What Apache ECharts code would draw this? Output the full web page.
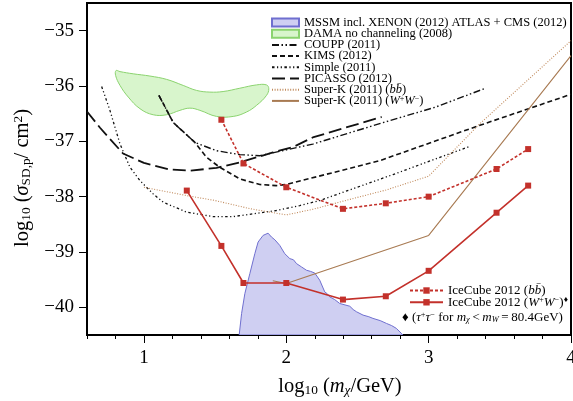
<!DOCTYPE html>
<html>
<head>
<meta charset="utf-8">
<script src="https://cdn.jsdelivr.net/npm/echarts@6/dist/echarts.min.js"></script>
<style>
  html, body { margin: 0; background: #fff; }
  #chart { width: 573px; height: 401px; }
</style>
</head>
<body>
<div id="chart"></div>
<script>
// axis ticks
const xTicks = [1, 2, 3, 4];
const yTicks = [-40, -39, -38, -37, -36, -35];

// [log10(m/GeV), log10(sigma/cm^2)]
const mssmRegion = [
  [1.669, -40.5], [1.686, -40.11], [1.709, -39.75], [1.744, -39.39], [1.779, -39.03],
  [1.802, -38.82], [1.837, -38.70], [1.872, -38.66], [1.896, -38.73], [1.92, -38.78],
  [1.954, -38.88], [1.989, -39.03], [2.025, -39.12], [2.05, -39.14], [2.072, -39.21],
  [2.107, -39.27], [2.142, -39.33], [2.17, -39.35], [2.2, -39.38], [2.235, -39.51],
  [2.27, -39.72], [2.29, -39.76], [2.305, -39.81], [2.34, -39.86], [2.375, -39.93],
  [2.446, -39.98], [2.47, -40.04], [2.493, -40.08], [2.539, -40.14], [2.58, -40.17],
  [2.609, -40.20], [2.66, -40.24], [2.703, -40.29], [2.74, -40.33], [2.773, -40.38],
  [2.808, -40.47], [2.82, -40.5]
];
const damaRegion = [
  [0.804, -35.72], [0.832, -35.74], [0.925, -35.78], [1.042, -35.82], [1.159, -35.88],
  [1.276, -35.99], [1.37, -36.08], [1.463, -36.11], [1.556, -36.10], [1.674, -36.04],
  [1.791, -35.98], [1.861, -35.98], [1.877, -36.05], [1.861, -36.17], [1.791, -36.35],
  [1.721, -36.47], [1.627, -36.55], [1.51, -36.55], [1.393, -36.44], [1.323, -36.40],
  [1.253, -36.44], [1.159, -36.52], [1.065, -36.52], [0.972, -36.41], [0.89, -36.20],
  [0.832, -35.99], [0.801, -35.81]
];
const coupp = [
  [1.105, -36.17], [1.206, -36.66], [1.358, -37.02], [1.51, -37.17], [1.674, -37.24],
  [1.814, -37.26], [1.954, -37.18], [2.186, -37.05], [2.656, -36.68], [3.05, -36.38], [3.4, -36.04]
];
const kims = [
  [1.105, -36.17], [1.206, -36.66], [1.358, -37.02], [1.44, -37.29], [1.533, -37.47],
  [1.674, -37.68], [1.814, -37.78], [1.93, -37.80], [2.0, -37.78], [2.656, -37.35],
  [3.36, -36.71], [4.0, -36.15]
];
const simple = [
  [0.703, -36.01], [0.761, -36.44], [0.832, -37.05], [0.902, -37.47], [0.972, -37.71],
  [1.065, -37.95], [1.135, -38.10], [1.30, -38.28], [1.486, -38.36], [1.627, -38.36],
  [1.767, -38.31], [1.93, -38.25], [2.095, -38.16], [2.235, -38.07], [2.75, -37.60], [3.29, -37.09]
];
const picasso = [
  [0.6, -36.46], [0.69, -36.75], [0.853, -37.22], [1.0, -37.39], [1.182, -37.51],
  [1.323, -37.53], [1.51, -37.48], [1.674, -37.38], [1.907, -37.20], [2.05, -37.10],
  [2.186, -36.93], [2.42, -36.75], [2.67, -36.56]
];
const superKbb = [
  [1.0, -37.83], [1.3, -37.98], [1.5, -38.07], [1.75, -38.22], [2.0, -38.33],
  [2.2, -38.22], [2.4, -38.08], [2.7, -37.88], [3.0, -37.63], [3.36, -36.68], [4.0, -35.18]
];
const superKww = [[1.905, -39.52], [2.0, -39.57], [3.0, -38.70], [4.0, -35.45]];
const icecubeBB = [
  [1.544, -36.61], [1.699, -37.40], [2.0, -37.83], [2.398, -38.22], [2.699, -38.12],
  [3.0, -38.0], [3.477, -37.50], [3.699, -37.14]
];
const icecubeWW = [
  [1.301, -37.89], [1.544, -38.89], [1.699, -39.56], [2.0, -39.56], [2.398, -39.86],
  [2.699, -39.80], [3.0, -39.34], [3.477, -38.29], [3.699, -37.80]
];

const FONT = 'Liberation Serif';
const RED = '#c3312b';
const BROWN = '#a87a52';

const richSet = (size) => ({
  i: { fontFamily: FONT, fontSize: size, fontStyle: 'italic', color: '#000' },
  sub: { fontFamily: FONT, fontSize: size * 0.65, lineHeight: size * 0.65, color: '#000', padding: [size * 0.4, 0, 0, 0] },
  isub: { fontFamily: FONT, fontSize: size * 0.65, lineHeight: size * 0.65, fontStyle: 'italic', color: '#000', padding: [size * 0.4, 0, 0, 0] },
  sup: { fontFamily: FONT, fontSize: size * 0.65, lineHeight: size * 0.65, color: '#000', padding: [0, 0, size * 0.4, 0] }
});

const legendText = {
  'Super-K (2011) (bb)': 'Super-K (2011) ({i|bb\u0304})',
  'Super-K (2011) (WW)': 'Super-K (2011) ({i|W}{sup|+}{i|W}{sup|\u2212})',
  'IceCube 2012 (bb)': 'IceCube 2012 ({i|bb\u0304})',
  'IceCube 2012 (WW)': 'IceCube 2012 ({i|W}{sup|+}{i|W}{sup|\u2212}){sup|\u2666}'
};

function line(name, data, color, width, type, withSymbol) {
  return {
    name, type: 'line', data,
    symbol: withSymbol ? 'rect' : 'none',
    symbolSize: 6,
    showSymbol: !!withSymbol,
    itemStyle: { color },
    lineStyle: { color, width, type },
    z: withSymbol ? 5 : 3,
    animation: false
  };
}

function region(name, data, fill, stroke, smooth) {
  return {
    name, type: 'custom', data, clip: true,
    itemStyle: { color: fill, borderColor: stroke, borderWidth: 1 },
    renderItem: (params, api) => {
      if (params.dataIndex !== 0) return null;
      return {
        type: 'polygon',
        shape: { points: data.map(p => api.coord(p)), smooth },
        style: { fill, stroke, lineWidth: 1 }
      };
    },
    z: 1, animation: false
  };
}

const noMark = { opacity: 0 };

const chart = echarts.init(document.getElementById('chart'));
chart.setOption({
  animation: false,
  grid: {
    left: 87, top: 3, right: 2, bottom: 66, outerBoundsMode: 'none',
    show: true, borderColor: '#000', borderWidth: 2, backgroundColor: 'transparent'
  },
  xAxis: [
    {
      type: 'value', min: 0.6, max: 4, interval: 0.2, position: 'bottom',
      axisLine: { show: false }, splitLine: { show: false },
      axisTick: { show: true, length: 4, lineStyle: { color: '#000', width: 1 } },
      axisLabel: { show: false }
    },
    {
      type: 'value', min: 0.6, max: 4, position: 'bottom',
      axisLine: { show: false }, splitLine: { show: false },
      axisTick: { show: true, length: 8, customValues: xTicks, lineStyle: { color: '#000', width: 1 } },
      axisLabel: { customValues: xTicks, margin: 14, fontFamily: FONT, fontSize: 19, color: '#000', showMaxLabel: true },
      name: 'log{sub|10} ({i|m}{isub|\u03c7}/GeV)',
      nameLocation: 'middle', nameGap: 41,
      nameTextStyle: { fontFamily: FONT, fontSize: 20.5, color: '#000', padding: [0, 0, 0, 22], rich: richSet(20.5) }
    }
  ],
  yAxis: {
    type: 'value', min: -40.5, max: -34.5,
    axisLine: { show: false }, splitLine: { show: false },
    axisTick: { show: true, length: 8, customValues: yTicks, lineStyle: { color: '#000', width: 1 } },
    axisLabel: {
      customValues: yTicks, margin: 13, fontFamily: FONT, fontSize: 19, color: '#000',
      formatter: v => '\u2212' + Math.abs(v)
    },
    name: 'log{sub|10} ({i|\u03c3}{sub|SD,p}/ cm{sup|2})',
    nameLocation: 'middle', nameGap: 52, nameRotate: 90,
    nameTextStyle: { fontFamily: FONT, fontSize: 20.5, color: '#000', padding: [0, 18, 0, 0], rich: richSet(20.5) }
  },
  legend: [
    {
      orient: 'vertical', left: 266, top: 11, align: 'left',
      itemWidth: 27, itemHeight: 8, itemGap: -1.8,
      textStyle: { fontFamily: FONT, fontSize: 12.5, color: '#000', rich: richSet(12.5) },
      formatter: n => legendText[n] || n,
      data: [
        { name: 'MSSM incl. XENON (2012) ATLAS + CMS (2012)', icon: 'rect' },
        { name: 'DAMA no channeling (2008)', icon: 'rect' },
        { name: 'COUPP (2011)', itemStyle: noMark },
        { name: 'KIMS (2012)', itemStyle: noMark },
        { name: 'Simple (2011)', itemStyle: noMark },
        { name: 'PICASSO (2012)', itemStyle: noMark },
        { name: 'Super-K (2011) (bb)', itemStyle: noMark },
        { name: 'Super-K (2011) (WW)', itemStyle: noMark }
      ]
    },
    {
      orient: 'vertical', left: 404, top: 279, align: 'left',
      itemWidth: 33, itemHeight: 8, itemGap: -1.3,
      textStyle: { fontFamily: FONT, fontSize: 13, color: '#000', rich: richSet(13) },
      formatter: n => legendText[n] || n,
      data: ['IceCube 2012 (bb)', 'IceCube 2012 (WW)']
    }
  ],
  graphic: [
    {
      type: 'text', left: 402, top: 311,
      style: {
        text: '\u2666 ({i|\u03c4}{sup|+}{i|\u03c4}{sup|\u2212} for {i|m}{isub|\u03c7}\u2009<\u2009{i|m}{isub|W}\u2009=\u200980.4GeV)',
        fontFamily: FONT, fontSize: 13, fill: '#000', rich: richSet(13)
      }
    }
  ],
  series: [
    region('MSSM incl. XENON (2012) ATLAS + CMS (2012)', mssmRegion, '#cfcff2', '#6f6fcf', 0),
    region('DAMA no channeling (2008)', damaRegion, '#d8f5cc', '#8bd36f', 0.4),
    line('COUPP (2011)', coupp, '#111', 1.4, [7, 2.5, 1.5, 2.5, 1.5, 2.5]),
    line('KIMS (2012)', kims, '#111', 1.6, [5, 3]),
    line('Simple (2011)', simple, '#111', 1.3, [2.5, 2.5, 1.2, 2.5, 1.2, 2.5]),
    line('PICASSO (2012)', picasso, '#111', 1.8, [13, 5]),
    line('Super-K (2011) (bb)', superKbb, '#c08a5c', 1.1, [1, 1.6]),
    line('Super-K (2011) (WW)', superKww, BROWN, 1.1, 'solid'),
    line('IceCube 2012 (bb)', icecubeBB, RED, 1.6, [3, 2], true),
    line('IceCube 2012 (WW)', icecubeWW, RED, 1.6, 'solid', true)
  ]
});
</script>
</body>
</html>
